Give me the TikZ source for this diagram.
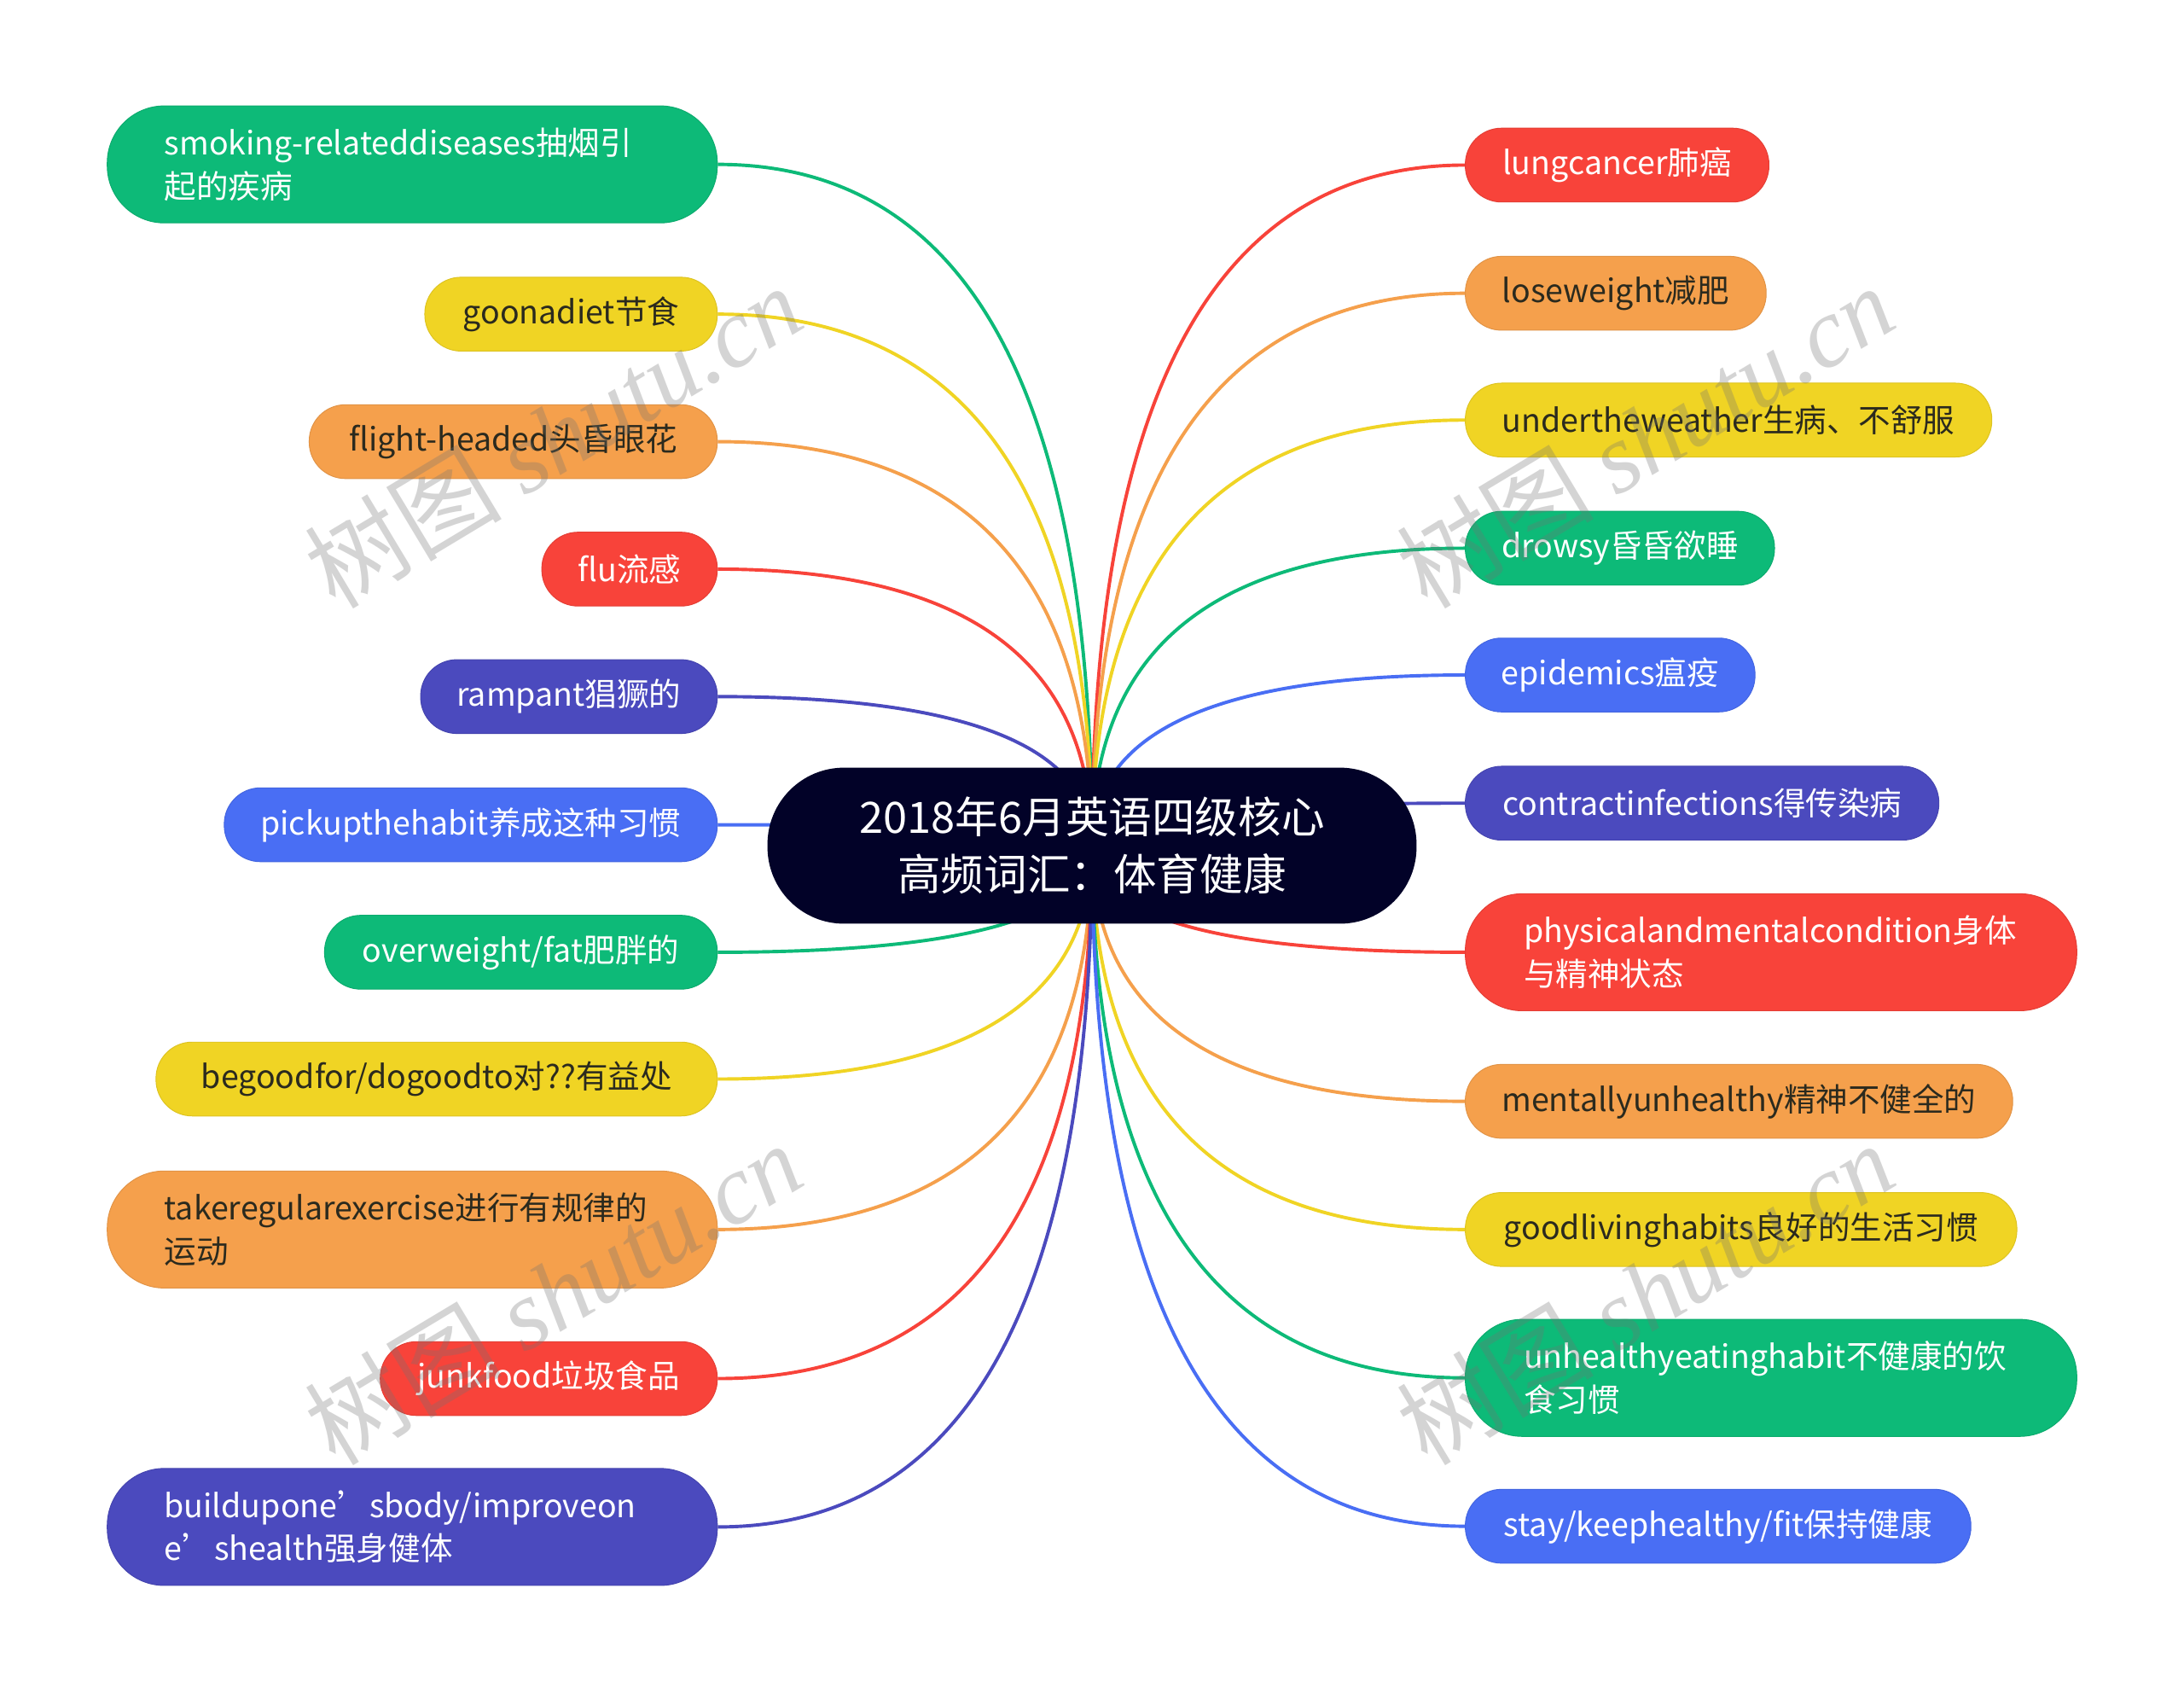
\documentclass[tikz,border=0pt]{standalone}
\usepackage{fontspec}
\setmainfont{Noto Sans CJK SC}
\newfontfamily\wmserif{Liberation Serif}
\usetikzlibrary{calc,backgrounds}
\definecolor{cgreen}{HTML}{0DBA78}
\definecolor{cyellow}{HTML}{F0D424}
\definecolor{corange}{HTML}{F5A04C}
\definecolor{cred}{HTML}{F8433A}
\definecolor{cindigo}{HTML}{4B4ABE}
\definecolor{cblue}{HTML}{496EF4}
\definecolor{cnavy}{HTML}{020228}
\definecolor{cdark}{HTML}{2B2A1E}
\tikzset{
  leaf/.style={rectangle, rounded corners=26pt, minimum height=53pt, inner sep=0pt,
    font=\fontsize{23}{31}\selectfont, line width=0.6pt},
  twoline/.style={rounded corners=41pt, minimum height=84pt, align=left},
  gr/.style={fill=cgreen, draw=cgreen!92!black, text=white},
  ye/.style={fill=cyellow, draw=cyellow!92!black, text=cdark},
  orr/.style={fill=corange, draw=corange!92!black, text=cdark},
  re/.style={fill=cred, draw=cred!92!black, text=white},
  ind/.style={fill=cindigo, draw=cindigo!92!black, text=white},
  bl/.style={fill=cblue, draw=cblue!92!black, text=white},
  hub/.style={rectangle, rounded corners=55pt, minimum width=466pt, minimum height=112pt,
    fill=cnavy, text=white, align=center, font=\fontsize{31}{41}\selectfont},
  conn/.style={line width=2.4pt},
  wm/.style={text=black!55, text opacity=0.3, font=\fontsize{71}{72}\selectfont, inner sep=0pt}
}
\begin{document}
\begin{tikzpicture}[x=1pt,y=-1pt]
\useasboundingbox (0,0) rectangle (1568,1215);
\begin{pgfonlayer}{background}
\fill[white] (0,0) rectangle (1568,1215);
\end{pgfonlayer}

% central node
\node[hub] (M) at (784,607) {2018年6月英语四级核心\\高频词汇：体育健康};

% left nodes
\node[leaf,twoline,gr,minimum width=438pt,text width=356pt] (L1) at (296,118)
  {\mbox{smoking-relateddiseases抽烟引}\\\mbox{起的疾病}};
\node[leaf,ye,minimum width=210pt] (L2) at (410,225.5) {goonadiet节食};
\node[leaf,orr,minimum width=293pt] (L3) at (368.5,317) {flight-headed头昏眼花};
\node[leaf,re,minimum width=126pt] (L4) at (452,408.5) {flu流感};
\node[leaf,ind,minimum width=213pt] (L5) at (408.5,500) {rampant猖獗的};
\node[leaf,bl,minimum width=354pt] (L6) at (338,592) {pickupthehabit养成这种习惯};
\node[leaf,gr,minimum width=282pt] (L7) at (374,683.5) {overweight/fat肥胖的};
\node[leaf,ye,minimum width=403pt] (L8) at (313.5,774.5) {begoodfor/dogoodto对??有益处};
\node[leaf,twoline,orr,minimum width=438pt,text width=356pt] (L9) at (296,882.5)
  {\mbox{takeregularexercise进行有规律的}\\\mbox{运动}};
\node[leaf,re,minimum width=242pt] (L10) at (394,989.5) {junkfood垃圾食品};
\node[leaf,twoline,ind,minimum width=438pt,text width=356pt] (L11) at (296,1096)
  {\mbox{buildupone’sbody/improveon}\\\mbox{e’shealth强身健体}};

% right nodes
\node[leaf,re,minimum width=218pt] (R1) at (1161,118.5) {lungcancer肺癌};
\node[leaf,orr,minimum width=216pt] (R2) at (1160,210.5) {loseweight减肥};
\node[leaf,ye,minimum width=378pt] (R3) at (1241,301.5) {undertheweather生病、不舒服};
\node[leaf,gr,minimum width=222pt] (R4) at (1163,393.5) {drowsy昏昏欲睡};
\node[leaf,bl,minimum width=208pt] (R5) at (1156,484.5) {epidemics瘟疫};
\node[leaf,ind,minimum width=340pt] (R6) at (1222,576.5) {contractinfections得传染病};
\node[leaf,twoline,re,minimum width=439pt,text width=355pt] (R7) at (1271.5,683.5)
  {\mbox{physicalandmentalcondition身体}\\\mbox{与精神状态}};
\node[leaf,orr,minimum width=393pt] (R8) at (1248.5,790.5) {mentallyunhealthy精神不健全的};
\node[leaf,ye,minimum width=396pt] (R9) at (1250,882.5) {goodlivinghabits良好的生活习惯};
\node[leaf,twoline,gr,minimum width=439pt,text width=355pt] (R10) at (1271.5,989)
  {\mbox{unhealthyeatinghabit不健康的饮}\\\mbox{食习惯}};
\node[leaf,bl,minimum width=363pt] (R11) at (1233.5,1095.5) {stay/keephealthy/fit保持健康};

% connectors
\begin{pgfonlayer}{background}
\foreach \n/\c in {L1/cgreen,L2/cyellow,L3/corange,L4/cred,L5/cindigo,L6/cblue,L7/cgreen,L8/cyellow,L9/corange,L10/cred,L11/cindigo}{
  \draw[conn,\c] (\n.east) .. controls ($(\n.east)!0.6667!(M.center |- \n.east)$) and ($(M.center)!0.6667!(M.center |- \n.east)$) .. (M.center);
}
\foreach \n/\c in {R1/cred,R2/corange,R3/cyellow,R4/cgreen,R5/cblue,R6/cindigo,R7/cred,R8/corange,R9/cyellow,R10/cgreen,R11/cblue}{
  \draw[conn,\c] (\n.west) .. controls ($(\n.west)!0.6667!(M.center |- \n.west)$) and ($(M.center)!0.6667!(M.center |- \n.west)$) .. (M.center);
}
\end{pgfonlayer}

% watermarks
\node[wm,rotate=31] (W1) at (397,313) {树图 {\wmserif\itshape shutu.cn}};
\node[wm,rotate=31] (W2) at (1181,313) {树图 {\wmserif\itshape shutu.cn}};
\node[wm,rotate=31] (W3) at (397,928) {树图 {\wmserif\itshape shutu.cn}};
\node[wm,rotate=31] (W4) at (1181,928) {树图 {\wmserif\itshape shutu.cn}};
\end{tikzpicture}
\end{document}
